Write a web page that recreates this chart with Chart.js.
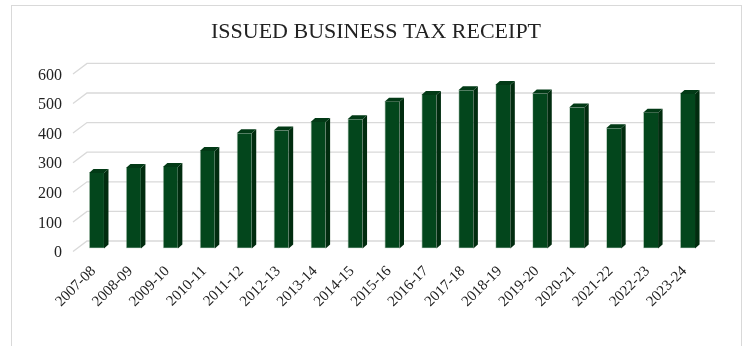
<!DOCTYPE html>
<html>
<head>
<meta charset="utf-8">
<title>Issued Business Tax Receipt</title>
<script src="https://cdn.jsdelivr.net/npm/chart.js@4.4.1/dist/chart.umd.min.js"></script>
<style>
  html, body { margin: 0; padding: 0; background: #fff; }
  #frame {
    position: absolute; left: 11px; top: 5px;
    width: 729px; height: 360px;
    border: 1.5px solid #d9d9d9;
  }
  #myChart { position: absolute; left: 0; top: 0; }
</style>
</head>
<body>
<div id="frame"></div>
<canvas id="myChart" width="744" height="346"></canvas>
<script>
// data
const years = ["2007-08", "2008-09", "2009-10", "2010-11", "2011-12", "2012-13", "2013-14", "2014-15",
  "2015-16", "2016-17", "2017-18", "2018-19", "2019-20", "2020-21", "2021-22", "2022-23", "2023-24"];
const receipts = [255, 272, 275, 329, 389, 399, 427, 437, 496, 519, 535, 552, 524, 476, 406, 459, 522];
const yTicks = [0, 100, 200, 300, 400, 500, 600];

const serif = "'Liberation Serif', 'Times New Roman', Times, serif";
const textColor = "#222222";

// faint back wall: each gridline runs up a short diagonal, then across
const backWall = {
  id: "backWall",
  beforeDatasetsDraw(chart) {
    const { ctx, chartArea, scales } = chart;
    ctx.save();
    ctx.strokeStyle = "#d9d9d9";
    ctx.lineWidth = 1.3;
    yTicks.forEach((v) => {
      const y = scales.y.getPixelForValue(v);
      ctx.beginPath();
      ctx.moveTo(chartArea.left - 5, y + 3);
      ctx.lineTo(chartArea.left + 9, y - 7.5);
      ctx.lineTo(chartArea.right + 9, y - 7.5);
      ctx.stroke();
    });
    ctx.restore();
  },
};

// side and top faces so the columns look extruded
const columnDepth = {
  id: "columnDepth",
  afterDatasetsDraw(chart) {
    const { ctx } = chart;
    const dx = 4.5, dy = 4;
    ctx.save();
    chart.getDatasetMeta(0).data.forEach((bar) => {
      const { x, y, base, width } = bar.getProps(["x", "y", "base", "width"], true);
      const l = x - width / 2, r = x + width / 2;
      ctx.fillStyle = "#012c0f";
      ctx.beginPath();
      ctx.moveTo(r, y);
      ctx.lineTo(r + dx, y - dy);
      ctx.lineTo(r + dx, base - dy);
      ctx.lineTo(r, base);
      ctx.closePath();
      ctx.fill();
      ctx.fillStyle = "#023a16";
      ctx.beginPath();
      ctx.moveTo(l, y);
      ctx.lineTo(l + dx, y - dy);
      ctx.lineTo(r + dx, y - dy);
      ctx.lineTo(r, y);
      ctx.closePath();
      ctx.fill();
    });
    ctx.restore();
  },
};

const config = {
  type: "bar",
  data: {
    labels: years,
    datasets: [
      {
        label: "Issued Business Tax Receipt",
        data: receipts,
        backgroundColor: "#03461c",
        borderColor: "rgba(110,150,120,0.55)",
        borderWidth: { left: 0.8, bottom: 0.8, top: 0, right: 0 },
        borderSkipped: false,
        barPercentage: 0.406,
        categoryPercentage: 1.0,
      },
    ],
  },
  options: {
    responsive: false,
    animation: false,
    devicePixelRatio: 1,
    layout: { padding: { left: 8, right: 0, top: 0, bottom: 0 } },
    plugins: {
      legend: { display: false },
      tooltip: { enabled: false },
      title: {
        display: true,
        text: "ISSUED BUSINESS TAX RECEIPT",
        color: textColor,
        font: { family: serif, size: 22, weight: "normal" },
        padding: { top: 19.5, bottom: 25 },
      },
    },
    scales: {
      x: {
        grid: { display: false, drawTicks: false },
        border: { display: false },
        ticks: {
          color: textColor,
          font: { family: serif, size: 15 },
          minRotation: 45,
          maxRotation: 45,
          autoSkip: false,
          padding: 14,
          labelOffset: -3,
        },
        afterFit: (scale) => { scale.height = 97.5; },
      },
      y: {
        min: 0,
        max: 600,
        grid: { display: false, drawTicks: false },
        border: { display: false },
        afterBuildTicks: (scale) => { scale.ticks = yTicks.map((v) => ({ value: v })); },
        ticks: {
          color: textColor,
          font: { family: serif, size: 16 },
          padding: 16,
          labelOffset: 4.5,
        },
        afterFit: (scale) => { scale.width = 70; },
      },
      // empty right-hand axis, only reserves the margin beside the plot
      spacer: {
        position: "right",
        grid: { display: false, drawTicks: false },
        border: { display: false },
        ticks: { display: false },
        afterFit: (scale) => { scale.width = 38; },
      },
    },
  },
  plugins: [backWall, columnDepth],
};

const myChart = new Chart(document.getElementById("myChart"), config);
</script>
</body>
</html>
